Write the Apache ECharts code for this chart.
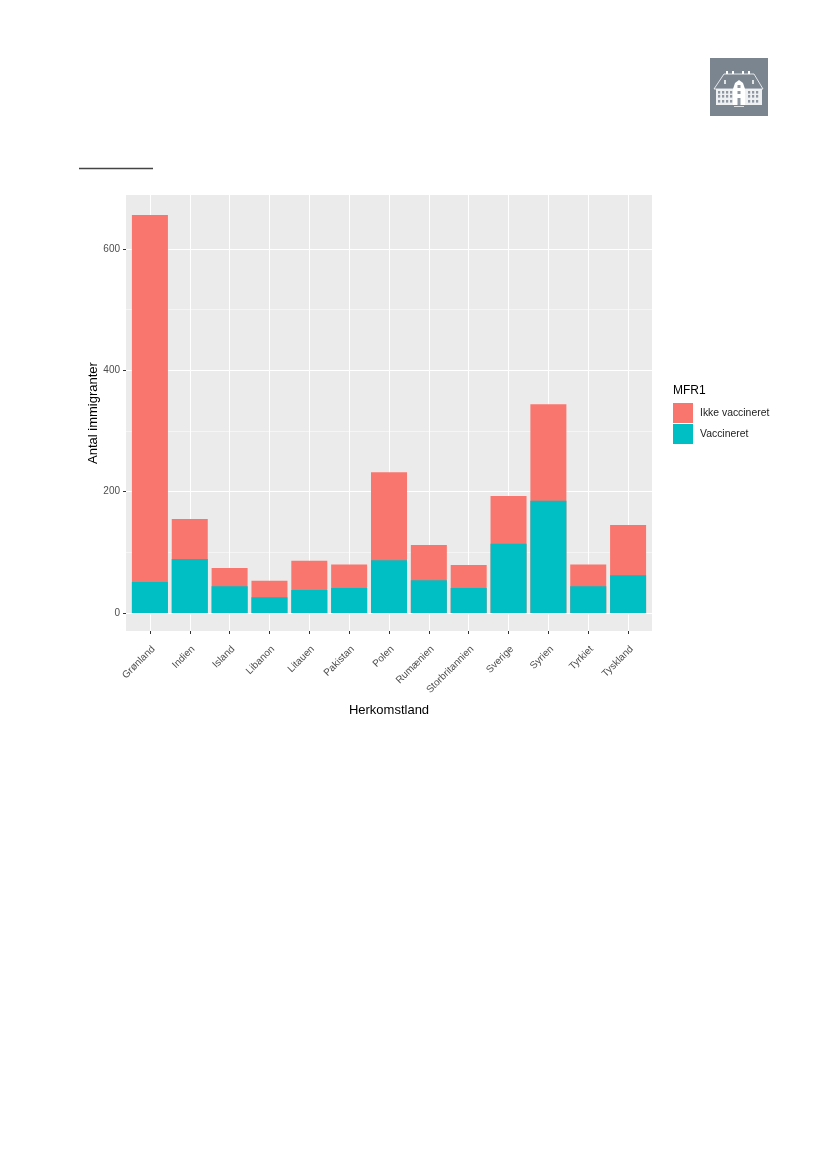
<!DOCTYPE html>
<html lang="da">
<head>
<meta charset="UTF-8">
<title>Antal immigranter efter herkomstland</title>
<script src="https://cdn.jsdelivr.net/npm/echarts@6/dist/echarts.min.js"></script>
</head>
<body style="margin:0;background:#fff">
<div id="main" style="width:827px;height:1169px"></div>
<script>
var lande = ['Grønland','Indien','Island','Libanon','Litauen','Pakistan','Polen','Rumænien','Storbritannien','Sverige','Syrien','Tyrkiet','Tyskland'];
var vaccineret = [51,89,44,26,38,41,87,54,41,114,185,44,62];
var ikkeVaccineret = [605,66,30,27,48,39,145,58,38,79,159,36,83];
var yTicks = [0,200,400,600];
var yMinor = [100,300,500];
var xTicks = lande.map(function (n, i) { return i; });

var font = '"Liberation Sans", Arial, sans-serif';

function pairs(values) {
    return values.map(function (v, i) { return [i, v]; });
}

// value x axis does not stack, so the red bar is the total and teal sits in front of it
var total = vaccineret.map(function (v, i) { return v + ikkeVaccineret[i]; });

// logo top right: small drawn building on grey
function logo() {
    var grey = '#7b8590', kids = [];
    kids.push({type:'rect', shape:{x:710,y:58,width:58,height:58}, style:{fill:grey}});
    [727,733,743,749].forEach(function (x) {
        kids.push({type:'rect', shape:{x:x-1,y:71,width:2,height:4}, style:{fill:'#fff'}});
    });
    kids.push({type:'polygon', shape:{points:[[714,89],[724,74],[754,74],[763,89]]},
        style:{fill:grey, stroke:'#fff', lineWidth:0.8}});
    kids.push({type:'rect', shape:{x:716,y:89,width:46,height:16}, style:{fill:'#eef0f2'}});
    kids.push({type:'polygon', shape:{points:[[733,89],[735,83],[739,80],[743,83],[745,89],[745,105],[733,105]]},
        style:{fill:'#fff'}});
    [718,722,726,730,748,752,756].forEach(function (x) {
        [91,95,100].forEach(function (y) {
            kids.push({type:'rect', shape:{x:x,y:y,width:2.2,height:2.6}, style:{fill:'#8f98a2'}});
        });
    });
    kids.push({type:'rect', shape:{x:737.5,y:85,width:3,height:3}, style:{fill:'#8f98a2'}});
    kids.push({type:'rect', shape:{x:737.5,y:91,width:3,height:3}, style:{fill:'#8f98a2'}});
    kids.push({type:'rect', shape:{x:737.5,y:98,width:3,height:7}, style:{fill:'#8f98a2'}});
    kids.push({type:'rect', shape:{x:724,y:80,width:2,height:4}, style:{fill:'#dfe3e6'}});
    kids.push({type:'rect', shape:{x:752,y:80,width:2,height:4}, style:{fill:'#dfe3e6'}});
    kids.push({type:'rect', shape:{x:734,y:106,width:10,height:1}, style:{fill:'#dfe3e6'}});
    return {type:'group', children:kids};
}

var myChart = echarts.init(document.getElementById('main'), null, {renderer:'canvas'});
myChart.setOption({
    animation: false,
    backgroundColor: '#fff',
    textStyle: {fontFamily: font},
    grid: {left:126, top:195, width:526, height:436, show:true, backgroundColor:'#EBEBEB', borderWidth:0},
    title: {text:'MFR1', left:668, top:380, textStyle:{fontFamily:font, fontSize:12, fontWeight:'normal', color:'#000'}},
    legend: {
        data:['Ikke vaccineret','Vaccineret'], orient:'vertical', left:668, top:398,
        itemWidth:20, itemHeight:20, itemGap:1, icon:'rect',
        textStyle:{fontFamily:font, fontSize:10.4, color:'#222', padding:[0,0,0,2]}
    },
    xAxis: {
        type:'value', min:-0.6, max:12.6,
        name:'Herkomstland', nameLocation:'middle', nameGap:73, nameMoveOverlap:false,
        nameTextStyle:{fontFamily:font, fontSize:13, color:'#000'},
        axisLine:{show:false, onZero:false},
        axisTick:{show:true, length:3, customValues:xTicks, lineStyle:{color:'#333'}},
        axisLabel:{
            customValues:xTicks, rotate:45, margin:13, verticalAlign:'top', fontSize:10, color:'#4D4D4D', fontFamily:font,
            formatter:function (v) { return lande[v]; }
        },
        splitLine:{show:true, lineStyle:{color:'#fff', width:1}}
    },
    yAxis: [{
        type:'value', min:-29.7, max:689,
        name:'Antal immigranter', nameLocation:'middle', nameGap:26, nameRotate:90, nameMoveOverlap:false,
        nameTextStyle:{fontFamily:font, fontSize:13, color:'#000'},
        axisLine:{show:false, onZero:false},
        axisTick:{show:true, length:3, customValues:yTicks, lineStyle:{color:'#333'}},
        axisLabel:{customValues:yTicks, margin:6, fontSize:10, color:'#4D4D4D', fontFamily:font},
        splitLine:{show:true, lineStyle:{color:'#fff', width:1}}
    }, {
        type:'value', min:-29.7, max:689, position:'left',
        axisLine:{show:false, onZero:false},
        axisTick:{show:false, customValues:yMinor},
        axisLabel:{show:false, customValues:yMinor},
        splitLine:{show:true, lineStyle:{color:'#fff', width:0.5}}
    }],
    series: [
        {name:'Ikke vaccineret', type:'bar', barWidth:36, barGap:'-100%', data:pairs(total), itemStyle:{color:'#F8766D'}},
        {name:'Vaccineret', type:'bar', barWidth:36, barGap:'-100%', data:pairs(vaccineret), itemStyle:{color:'#00BFC4'}}
    ],
    graphic: [
        {type:'line', shape:{x1:79,y1:168.5,x2:153,y2:168.5}, style:{stroke:'#444', lineWidth:1.5}},
        logo()
    ]
});
</script>
</body>
</html>
